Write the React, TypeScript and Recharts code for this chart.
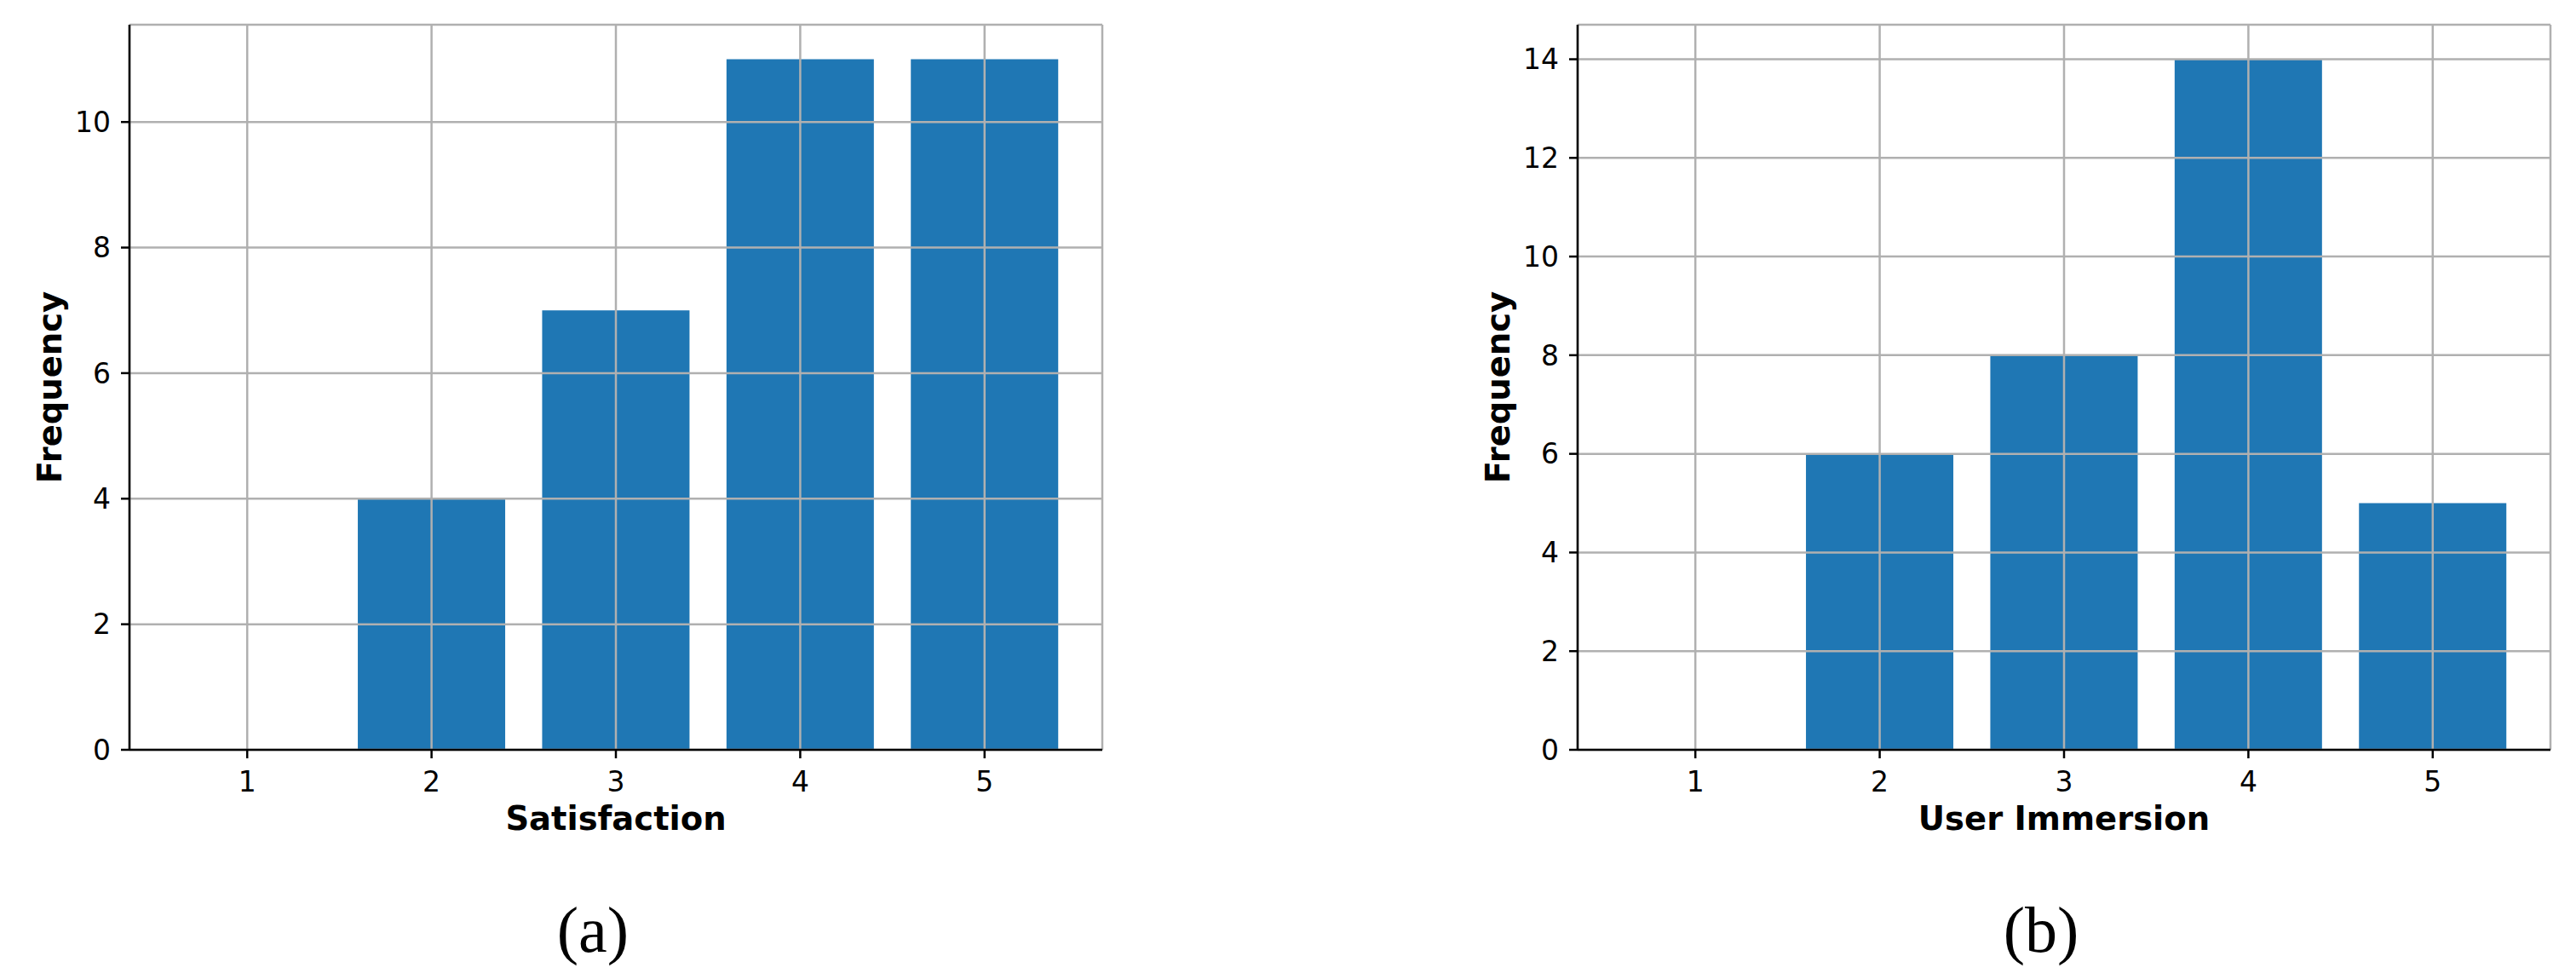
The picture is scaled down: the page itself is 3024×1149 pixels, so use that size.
import React from 'react';
import { BarChart, Bar, XAxis, YAxis, CartesianGrid, Label } from 'recharts';

const categories = ['1', '2', '3', '4', '5'];
const satisfactionCounts = [0, 4, 7, 11, 11];
const immersionCounts = [0, 6, 8, 14, 5];
const satisfactionTicks = [0, 2, 4, 6, 8, 10];
const immersionTicks = [0, 2, 4, 6, 8, 10, 12, 14];

const BLUE = '#1f77b4';
const GRID = '#b0b0b0';
const FONT = '"DejaVu Sans", sans-serif';

const CHART_W = 1512;
const CHART_H = 1149;

interface PanelProps {
  values: number[];
  ticks: number[];
  yMax: number;
  xLabel: string;
  plotLeft: number;
  plotRight: number;
  caption: string;
  offsetX: number;
}

const Panel: React.FC<PanelProps> = ({ values, ticks, yMax, xLabel, plotLeft, plotRight, caption, offsetX }) => {
  const data = categories.map((c, i) => ({ name: c, value: values[i] }));
  const yAxisW = 100;
  const plotTop = 29;
  const plotBottom = 880;
  const xAxisH = 60;

  return (
    <div style={{ position: 'absolute', left: offsetX, top: 0, width: CHART_W, height: CHART_H }}>
      <BarChart
        width={CHART_W}
        height={CHART_H}
        data={data}
        barCategoryGap="10%"
        margin={{ top: plotTop, right: CHART_W - plotRight, left: plotLeft - yAxisW, bottom: CHART_H - plotBottom - xAxisH }}
      >
        <Bar dataKey="value" fill={BLUE} isAnimationActive={false} />
        <CartesianGrid stroke={GRID} strokeWidth={2.5} zIndex={350} />
        <XAxis
          dataKey="name"
          padding={{ left: 30, right: 30 }}
          height={xAxisH}
          tickSize={10}
          tickMargin={16}
          axisLine={{ stroke: '#000', strokeWidth: 2.5 }}
          tickLine={{ stroke: '#000', strokeWidth: 2.5 }}
          tick={{ fill: '#000', fontSize: 33, fontFamily: FONT }}
        >
          <Label
            content={(props: any) => {
              const vb = props.viewBox;
              return (
                <text
                  x={vb.x + vb.width / 2}
                  y={960}
                  textAnchor="middle"
                  dominantBaseline="central"
                  fontFamily={FONT}
                  fontWeight="bold"
                  fontSize={38.5}
                  fill="#000"
                >
                  {xLabel}
                </text>
              );
            }}
          />
        </XAxis>
        <XAxis
          xAxisId="top"
          dataKey="name"
          orientation="top"
          height={0}
          tick={false}
          tickLine={false}
          axisLine={{ stroke: '#000', strokeWidth: 2.5 }}
        />
        <YAxis
          domain={[0, yMax]}
          ticks={ticks}
          width={yAxisW}
          tickSize={10}
          tickMargin={12}
          axisLine={{ stroke: '#000', strokeWidth: 2.5 }}
          tickLine={{ stroke: '#000', strokeWidth: 2.5 }}
          tick={{ fill: '#000', fontSize: 33, fontFamily: FONT }}
        >
          <Label
            content={(props: any) => {
              const vb = props.viewBox;
              const cx = plotLeft - 94;
              const cy = vb.y + vb.height / 2;
              return (
                <text
                  x={cx}
                  y={cy}
                  transform={`rotate(-90 ${cx} ${cy})`}
                  textAnchor="middle"
                  dominantBaseline="central"
                  fontFamily={FONT}
                  fontWeight="bold"
                  fontSize={38.5}
                  fill="#000"
                >
                  Frequency
                </text>
              );
            }}
          />
        </YAxis>
        <YAxis
          yAxisId="right"
          orientation="right"
          domain={[0, yMax]}
          width={0}
          tick={false}
          tickLine={false}
          axisLine={{ stroke: '#000', strokeWidth: 2.5 }}
        />
      </BarChart>
      <div
        style={{
          position: 'absolute',
          left: (plotLeft + plotRight) / 2 - 27 - 100,
          width: 200,
          top: 1091 - 45,
          height: 90,
          lineHeight: '90px',
          textAlign: 'center',
          fontFamily: '"Liberation Serif", serif',
          fontSize: 76,
          color: '#000',
        }}
      >
        {caption}
      </div>
    </div>
  );
};

export default function App() {
  return (
    <div style={{ position: 'absolute', left: 0, top: 0, width: 3024, height: 1149, background: '#fff', overflow: 'hidden' }}>
      <Panel
        values={satisfactionCounts}
        ticks={satisfactionTicks}
        yMax={11.55}
        xLabel="Satisfaction"
        plotLeft={152}
        plotRight={1294}
        caption="(a)"
        offsetX={0}
      />
      <Panel
        values={immersionCounts}
        ticks={immersionTicks}
        yMax={14.7}
        xLabel="User Immersion"
        plotLeft={340}
        plotRight={1482}
        caption="(b)"
        offsetX={1512}
      />
    </div>
  );
}
